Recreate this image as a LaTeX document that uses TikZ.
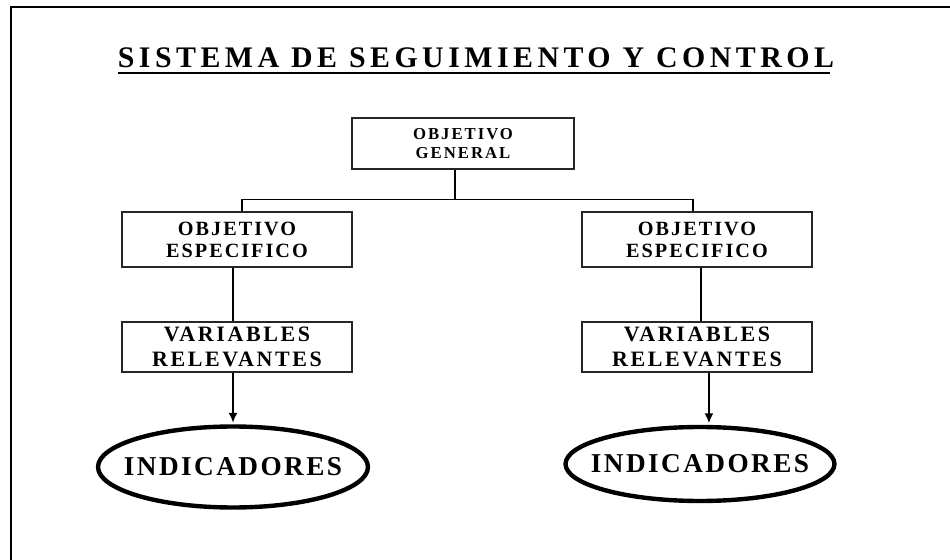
\documentclass[tikz,border=0pt]{standalone}
\usepackage{fontspec}
\setmainfont{Liberation Serif}
\usepackage{tikz}
\usetikzlibrary{positioning,%
  arrows.meta,%
  shapes.geometric,%
  calc}

\tikzset{
  marco/.style={line width=1.2pt},
  titulo/.style={inner sep=0pt, font=\bfseries\fontsize{17}{20}\selectfont\addfontfeature{LetterSpace=15}},
  caja/.style={draw=black!85, line width=0.7pt, align=center, inner sep=0pt},
  general/.style={caja, minimum width=4.44cm, minimum height=1.02cm, font=\bfseries\fontsize{9.5}{11.3}\selectfont\addfontfeature{LetterSpace=12}},
  especifico/.style={caja, minimum width=4.6cm, minimum height=1.1cm, font=\bfseries\fontsize{11.5}{12.5}\selectfont\addfontfeature{LetterSpace=10}},
  variables/.style={caja, minimum width=4.6cm, minimum height=1.0cm, font=\bfseries\fontsize{12.5}{14}\selectfont\addfontfeature{LetterSpace=12}},
  indicador/.style={ellipse, draw, line width=2.5pt, inner xsep=-12pt, inner ysep=0pt, minimum width=5.4cm, minimum height=1.62cm, font=\bfseries\fontsize{15.5}{17}\selectfont\addfontfeature{LetterSpace=9}},
  linea/.style={line width=0.7pt},
  flecha/.style={line width=0.7pt, -{Latex[length=5.5pt,width=5pt]}, shorten >=1pt}
}

\begin{document}
\begin{tikzpicture}[x=0.02cm, y=-0.02cm]
  \useasboundingbox (0,0) rectangle (950,560);
  \draw[marco] (11,560) -- (11,7) -- (950,7);

  % titulo
  \node[titulo, anchor=base] (titulo) at (476,68) {SISTEMA DE SEGUIMIENTO Y CONTROL};
  \draw[line width=1.1pt] ([yshift=-2.6pt]titulo.base west) -- ([yshift=-2.6pt,xshift=-2.5pt]titulo.base east);

  % cajas
  \node[general] (og) at (463,143.5) {OBJETIVO\\GENERAL};
  \node[especifico] (oe1) at (237,239.5) {OBJETIVO\\ESPECIFICO};
  \node[especifico] (oe2) at (697,239.5) {OBJETIVO\\ESPECIFICO};
  \node[variables] (vr1) at (237,347) {VARIABLES\\RELEVANTES};
  \node[variables] (vr2) at (697,347) {VARIABLES\\RELEVANTES};
  \node[indicador] (ind1) at (233,467) {INDICADORES};
  \node[indicador, minimum width=5.38cm, minimum height=1.48cm] (ind2) at (700,464) {INDICADORES};

  % ramas
  \draw[linea] ([xshift=-4.5pt]og.south) -- ++(0,30) coordinate (cruce);
  \draw[linea] ([xshift=2.8pt]oe1.north) |- (cruce) -| ([xshift=-2.3pt]oe2.north);
  \draw[linea] ([xshift=-2.3pt]oe1.south) -- ([xshift=-2.3pt]vr1.north);
  \draw[linea] ([xshift=2.3pt]oe2.south) -- ([xshift=2.3pt]vr2.north);
  \draw[flecha] (vr1.south -| ind1.north) -- (ind1.north);
  \draw[flecha] ([xshift=6.8pt]vr2.south) -- ([xshift=6.8pt]vr2.south |- ind2.north);
\end{tikzpicture}
\end{document}
